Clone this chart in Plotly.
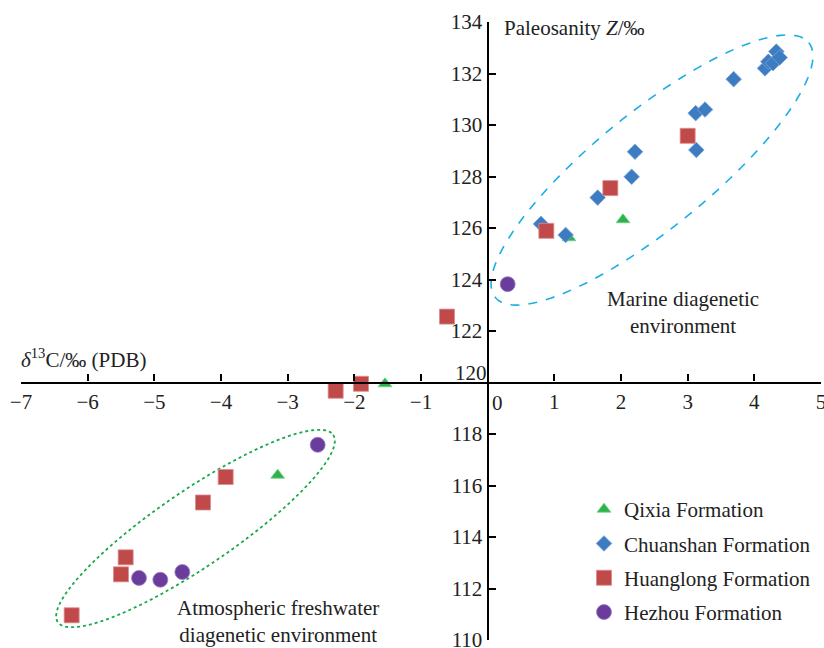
import numpy as np
import plotly.graph_objects as go

# ---- data ----
qixia_x = [2.03, 1.22, -1.54, -3.15]
qixia_y = [126.32, 125.62, 119.95, 116.40]

chuanshan_x = [0.80, 1.17, 1.65, 2.16, 2.21, 3.12, 3.26, 3.13, 3.69, 4.16, 4.21, 4.28, 4.33, 4.38]
chuanshan_y = [126.16, 125.73, 127.18, 127.99, 128.96, 130.46, 130.60, 129.03, 131.78, 132.20, 132.46, 132.40, 132.85, 132.62]

huanglong_x = [0.88, 1.84, 3.00, -0.61, -1.90, -2.28, -3.93, -4.27, -5.43, -5.50, -6.24]
huanglong_y = [125.89, 127.55, 129.58, 122.56, 119.95, 119.68, 116.33, 115.34, 113.21, 112.55, 110.96]

hezhou_x = [0.30, -2.55, -4.58, -4.91, -5.23]
hezhou_y = [123.82, 117.58, 112.64, 112.34, 112.41]

x_ticks = [-7, -6, -5, -4, -3, -2, -1, 1, 2, 3, 4, 5]
y_ticks = [110, 112, 114, 116, 118, 122, 124, 126, 128, 130, 132, 134]

# ---- geometry ----
W, H = 824, 648
ML, MR, MT, MB = 21, 3, 22, 8
XR = [-7, 5]
YR = [110, 134]
PW, PH = W - ML - MR, H - MT - MB


def px2data(px, py):
    x = XR[0] + (px - ML) / PW * (XR[1] - XR[0])
    y = YR[1] - (py - MT) / PH * (YR[1] - YR[0])
    return x, y


def ellipse_path(cx, cy, a, b, ang_deg, n=120):
    th = np.radians(ang_deg)
    t = np.linspace(0, 2 * np.pi, n)
    ex = a * np.cos(t)
    ey = b * np.sin(t)
    px = cx + ex * np.cos(th) + ey * np.sin(th)
    py = cy - ex * np.sin(th) + ey * np.cos(th)
    pts = [px2data(u, v) for u, v in zip(px, py)]
    return "M " + " L ".join(f"{x:.4f},{y:.4f}" for x, y in pts) + " Z"


FONT = "Liberation Serif"
FS = 21

fig = go.Figure()
fig.add_trace(go.Scatter(x=qixia_x, y=qixia_y, mode="markers", name="Qixia Formation",
                         legendgroup="a",
                         marker=dict(symbol="triangle-up", size=12, color="#2db34a",
                                     line=dict(width=0.8, color="#6fd08a"))))
fig.add_trace(go.Scatter(x=chuanshan_x, y=chuanshan_y, mode="markers", name="Chuanshan Formation",
                         legendgroup="b",
                         marker=dict(symbol="diamond", size=12, color="#3d7cc1",
                                     line=dict(width=0.8, color="#7aa6d8"))))
fig.add_trace(go.Scatter(x=huanglong_x, y=huanglong_y, mode="markers", name="Huanglong Formation",
                         legendgroup="c",
                         marker=dict(symbol="square", size=15, color="#c0494a",
                                     line=dict(width=0.8, color="#dc8c8c"))))
fig.add_trace(go.Scatter(x=hezhou_x, y=hezhou_y, mode="markers", name="Hezhou Formation",
                         legendgroup="d",
                         marker=dict(symbol="circle", size=15, color="#6a3d9c",
                                     line=dict(width=0.8, color="#9c80c4"))))

shapes = [
    dict(type="path", xref="x", yref="y", layer="below",
         path=ellipse_path(652, 170, 202, 58, 39.1),
         line=dict(color="#1aaee8", width=1.6, dash="dash")),
    dict(type="path", xref="x", yref="y", layer="below",
         path=ellipse_path(195.5, 528.5, 166.5, 38, 34.2),
         line=dict(color="#1ba84c", width=1.8, dash="dot")),
]

annotations = [
    dict(x=502, y=28, text="Paleosanity <i>Z</i>/‰", xanchor="left"),
    dict(x=19, y=358, text="<i>δ</i><sup>13</sup>C/‰ (PDB)", xanchor="left"),
    dict(x=683, y=312, text="Marine diagenetic<br>environment", xanchor="center"),
    dict(x=278, y=621, text="Atmospheric freshwater<br>diagenetic environment", xanchor="center"),
    dict(x=498, y=403, text="0", xanchor="center"),
    dict(x=471, y=373, text="120", xanchor="center"),
]
for an in annotations:
    px, py = an["x"], an["y"]
    an.update(x=(px - ML) / PW, y=1 - (py - MT) / PH, xref="paper", yref="paper",
              showarrow=False, yanchor="middle", align="center",
              font=dict(family=FONT, size=FS, color="#222"))

fig.update_layout(
    width=W, height=H,
    margin=dict(l=ML, r=MR, t=MT, b=MB, pad=0),
    paper_bgcolor="white", plot_bgcolor="white",
    font=dict(family=FONT, size=FS, color="#222"),
    showlegend=True,
    legend=dict(x=(584 - ML) / PW, y=1 - (489 - MT) / PH, xanchor="left", yanchor="top",
                bgcolor="rgba(0,0,0,0)", tracegroupgap=4, itemwidth=30,
                font=dict(family=FONT, size=FS, color="#222")),
    shapes=shapes,
    annotations=annotations,
    xaxis=dict(range=XR, showgrid=False, zeroline=False, showline=True, linecolor="black",
               linewidth=2.2, anchor="free", position=(120 - YR[0]) / (YR[1] - YR[0]),
               tickvals=x_ticks, ticks="inside", ticklen=7, tickwidth=2, tickcolor="black",
               ticklabeloverflow="allow",
               tickfont=dict(family=FONT, size=FS, color="#222"), automargin=False),
    yaxis=dict(range=YR, showgrid=False, zeroline=False, showline=True, linecolor="black",
               linewidth=2.2, anchor="free", position=(0 - XR[0]) / (XR[1] - XR[0]),
               tickvals=y_ticks, ticks="inside", ticklen=7, tickwidth=2, tickcolor="black",
               ticklabeloverflow="allow",
               tickfont=dict(family=FONT, size=FS, color="#222"), automargin=False),
)

fig.write_html("out.html")
